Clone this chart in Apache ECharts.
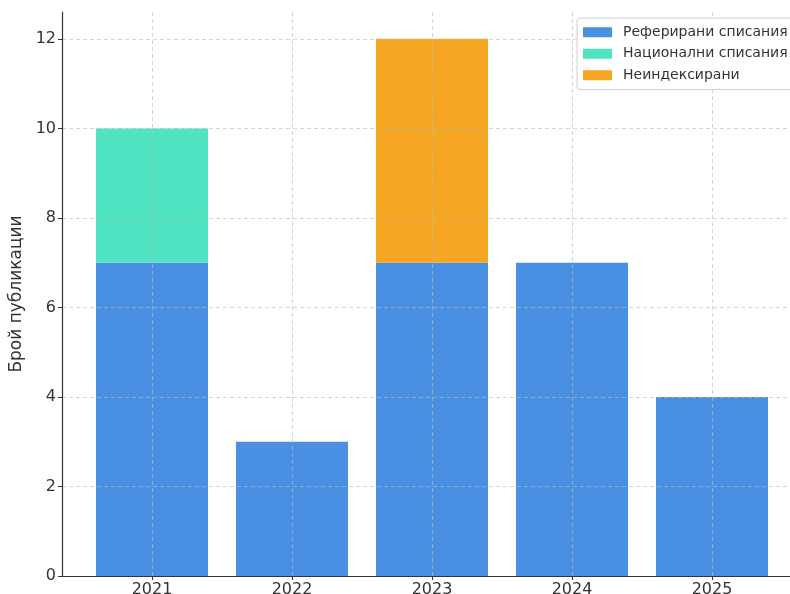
<!DOCTYPE html>
<html>
<head>
<meta charset="utf-8">
<script src="https://cdn.jsdelivr.net/npm/echarts@6/dist/echarts.min.js"></script>
<style>
    html, body { margin: 0; padding: 0; background: #fff; }
    #chart { width: 790px; height: 594px; }
</style>
</head>
<body>
<div id="chart"></div>
<script>
    var years = ['2021', '2022', '2023', '2024', '2025'];
    var referirani = [7, 3, 7, 7, 4];
    var nacionalni = [3, 0, 0, 0, 0];
    var neindeks = [0, 0, 5, 0, 0];
    var yTicks = [0, 2, 4, 6, 8, 10, 12];

    var font = 'DejaVu Sans';
    var idx = years.map(function (y, i) { return i; });
    var gridLine = { show: true, lineStyle: { color: '#bbb', opacity: 0.8, type: [4, 3], width: 0.8 } };

    var chart = echarts.init(document.getElementById('chart'));

    chart.setOption({
        animation: false,
        backgroundColor: '#fff',
        // grid 0 draws the frame, ticks and grid lines; grid 1 holds the bars
        grid: [
            { left: 62, top: 12, bottom: 18, right: -12, outerBoundsMode: 'none', containLabel: false },
            { left: 82, top: 12, bottom: 18, right: 8, outerBoundsMode: 'none', containLabel: false }
        ],
        legend: {
            orient: 'vertical',
            left: 577,
            top: 18,
            padding: [6, 10, 6, 6],
            itemWidth: 29,
            itemHeight: 10,
            itemGap: 5,
            borderColor: '#d0d0d0',
            borderWidth: 1,
            borderRadius: 3,
            backgroundColor: 'rgba(255,255,255,0.85)',
            icon: 'rect',
            textStyle: { fontFamily: font, fontSize: 14, color: '#333', lineHeight: 16.5, padding: [0, 0, 0, 6] },
            data: ['Реферирани списания', 'Национални списания', 'Неиндексирани'],
            z: 10
        },
        xAxis: [
            {
                type: 'value',
                gridIndex: 0,
                min: -0.643,
                max: 4.643,
                axisLine: { show: true, onZero: false, lineStyle: { color: '#333', width: 1.2 } },
                axisTick: { show: true, customValues: idx, length: 4, lineStyle: { color: '#333' } },
                axisLabel: {
                    customValues: idx,
                    fontFamily: font, fontSize: 16, color: '#333', margin: 6,
                    formatter: function (v) { return years[Math.round(v)]; }
                },
                splitLine: gridLine,
                z: 5
            },
            {
                type: 'category',
                gridIndex: 1,
                data: years,
                show: false
            }
        ],
        yAxis: [
            {
                type: 'value',
                gridIndex: 0,
                min: 0,
                max: 12.6,
                name: 'Брой публикации',
                nameLocation: 'middle',
                nameGap: 31,
                nameTextStyle: { fontFamily: font, fontSize: 17, color: '#333' },
                axisLine: { show: true, onZero: false, lineStyle: { color: '#333', width: 1.2 } },
                axisTick: { show: true, customValues: yTicks, length: 4, lineStyle: { color: '#333' } },
                axisLabel: { customValues: yTicks, fontFamily: font, fontSize: 16, color: '#333', margin: 6 },
                splitLine: gridLine,
                z: 5
            },
            {
                type: 'value',
                gridIndex: 1,
                min: 0,
                max: 12.6,
                show: false,
                splitLine: { show: false }
            }
        ],
        series: [
            {
                name: 'Реферирани списания', type: 'bar', stack: 'a', barWidth: 112,
                xAxisIndex: 1, yAxisIndex: 1,
                itemStyle: { color: '#4A90E2' }, data: referirani
            },
            {
                name: 'Национални списания', type: 'bar', stack: 'a', barWidth: 112,
                xAxisIndex: 1, yAxisIndex: 1,
                itemStyle: { color: '#50E3C2' }, data: nacionalni
            },
            {
                name: 'Неиндексирани', type: 'bar', stack: 'a', barWidth: 112,
                xAxisIndex: 1, yAxisIndex: 1,
                itemStyle: { color: '#F5A623' }, data: neindeks
            }
        ]
    });
</script>
</body>
</html>
